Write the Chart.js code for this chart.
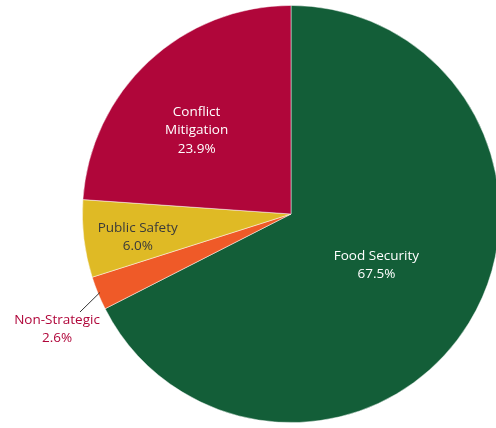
<!DOCTYPE html>
<html>
<head>
<meta charset="utf-8">
<script src="https://cdn.jsdelivr.net/npm/chart.js@4.4.1/dist/chart.umd.min.js"></script>
<style>
  html, body { margin: 0; padding: 0; background: #ffffff; }
  #wrap { width: 496px; height: 428px; overflow: hidden; position: relative; }
  #chart { position: absolute; left: 0; top: 0; }
</style>
</head>
<body>
<div id="wrap"><canvas id="chart" width="582" height="428"></canvas></div>
<script>
const categories = ['Food Security', 'Non-Strategic', 'Public Safety', 'Conflict Mitigation'];
const shares = [67.5, 2.6, 6.0, 23.9];
const sliceColors = ['#135e38', '#ef5a28', '#dfba25', '#b0063a'];
const labelLines = [['Food Security'], ['Non-Strategic'], ['Public Safety'], ['Conflict', 'Mitigation']];
const labelColors = ['#ffffff', '#b0063a', '#3a3a3a', '#ffffff'];

// Label placement: fraction of radius along the slice's mid-angle, plus small pixel nudges
const labelPlacement = [
  { f: 0.48, dx: 0, dy: -1 },
  { outside: true, tx: 57, ty: 320, lx: 80, ly: 312 },
  { f: 0.74, dx: 0, dy: 5 },
  { f: 0.60, dx: -9, dy: 8 }
];

const sliceLabels = {
  id: 'sliceLabels',
  afterDatasetsDraw(chart) {
    const ctx = chart.ctx;
    const meta = chart.getDatasetMeta(0);
    ctx.save();
    ctx.font = '13.5px "Open Sans", sans-serif';
    ctx.textAlign = 'center';
    ctx.textBaseline = 'middle';
    const lh = 18.5;
    meta.data.forEach((arc, i) => {
      const p = arc.getProps(['x', 'y', 'startAngle', 'endAngle', 'outerRadius'], true);
      const mid = (p.startAngle + p.endAngle) / 2;
      const lines = labelLines[i].concat([shares[i].toFixed(1) + '%']);
      const pl = labelPlacement[i];
      let cx, cy;
      if (pl.outside) {
        const ex = p.x + Math.cos(mid) * p.outerRadius * 0.99;
        const ey = p.y + Math.sin(mid) * p.outerRadius * 0.99;
        ctx.strokeStyle = '#333333';
        ctx.lineWidth = 1;
        ctx.beginPath();
        ctx.moveTo(ex, ey);
        ctx.lineTo(pl.lx, pl.ly);
        ctx.stroke();
        cx = pl.tx;
        cy = pl.ty + lh / 2;
      } else {
        cx = p.x + Math.cos(mid) * p.outerRadius * pl.f + pl.dx;
        cy = p.y + Math.sin(mid) * p.outerRadius * pl.f + pl.dy;
      }
      ctx.fillStyle = labelColors[i];
      const top = cy - (lines.length - 1) * lh / 2;
      lines.forEach((t, k) => ctx.fillText(t, cx, top + k * lh));
    });
    ctx.restore();
  }
};

new Chart(document.getElementById('chart'), {
  type: 'pie',
  data: {
    labels: categories,
    datasets: [{
      data: shares,
      backgroundColor: sliceColors,
      borderColor: 'rgba(255,255,255,0.6)',
      borderWidth: 0.8
    }]
  },
  options: {
    responsive: false,
    animation: false,
    layout: { padding: 5 },
    plugins: {
      legend: { display: false },
      tooltip: { enabled: false }
    }
  },
  plugins: [sliceLabels]
});
</script>
</body>
</html>
